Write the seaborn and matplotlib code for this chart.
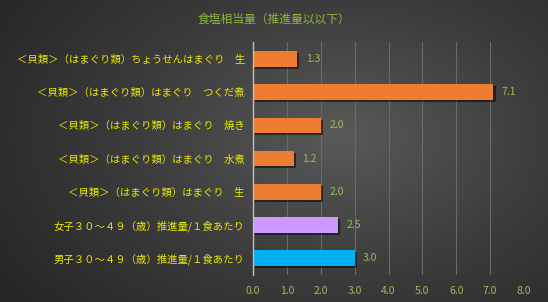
import numpy as np
import pandas as pd
import seaborn as sns
import matplotlib.pyplot as plt
import matplotlib.patheffects as pe

labels = [
    "＜貝類＞（はまぐり類）ちょうせんはまぐり　生",
    "＜貝類＞（はまぐり類）はまぐり　つくだ煮",
    "＜貝類＞（はまぐり類）はまぐり　焼き",
    "＜貝類＞（はまぐり類）はまぐり　水煮",
    "＜貝類＞（はまぐり類）はまぐり　生",
    "女子３０～４９（歳）推進量/１食あたり",
    "男子３０～４９（歳）推進量/１食あたり",
]
values = [1.3, 7.1, 2.0, 1.2, 2.0, 2.5, 3.0]
bar_colors = ["#ED7D31", "#ED7D31", "#ED7D31", "#ED7D31", "#ED7D31", "#CC99FF", "#00B0F0"]
title = "食塩相当量（推進量以以下）"

sns.set_style("dark")
plt.rcParams['font.family'] = ['Noto Sans CJK JP', 'DejaVu Sans']

fig = plt.figure(figsize=(5.48, 3.02), dpi=100)

# dark radial background
bg = fig.add_axes([0, 0, 1, 1], zorder=-10)
yy, xx = np.mgrid[0:1:302j, 0:1:548j]
r = np.sqrt(((xx - 0.62) / 0.75) ** 2 + ((yy - 0.45) / 0.9) ** 2)
bg.imshow(np.clip(r, 0, 1), cmap=plt.matplotlib.colors.LinearSegmentedColormap.from_list(
    "bg", ["#595959", "#3c3c3c", "#262626"]), aspect="auto", extent=[0, 1, 0, 1])
bg.axis("off")

ax = fig.add_axes([0.462, 0.09, 0.494, 0.77])
ax.patch.set_alpha(0)
df = pd.DataFrame({"label": labels, "value": values})
sns.barplot(data=df, x="value", y="label", hue="label", palette=bar_colors,
            legend=False, width=0.47, ax=ax, edgecolor="none", saturation=1)
for p in ax.patches:
    p.set_path_effects([pe.SimplePatchShadow(offset=(1.5, -1.5), shadow_rgbFace="black", alpha=0.5),
                        pe.Normal()])

for i, v in enumerate(values):
    ax.text(v + 0.25, i, f"{v:.1f}", va="center", ha="left", fontsize=7.5, color="#9BBB59")

ax.set_xlim(0, 8)
ax.set_xticks(np.arange(0, 8.01, 1.0))
ax.set_xticklabels([f"{t:.1f}" for t in np.arange(0, 8.01, 1.0)], color="#9BBB59", fontsize=7.5)
ax.tick_params(axis="y", labelsize=7.5, labelcolor="#E8E800", length=0, pad=6)
ax.tick_params(axis="x", length=0, pad=8)
ax.set_xlabel("")
ax.set_ylabel("")
ax.grid(axis="x", color="#6a6a6a", linewidth=0.8)
ax.set_axisbelow(True)
for s in ["top", "right", "bottom"]:
    ax.spines[s].set_visible(False)
ax.spines["left"].set_color("#bfbfbf")
ax.spines["left"].set_linewidth(1)

fig.text(0.5, 0.935, title, ha="center", va="center", fontsize=8.5, color="#8DB63C")

fig.savefig("out.png", dpi=100)
